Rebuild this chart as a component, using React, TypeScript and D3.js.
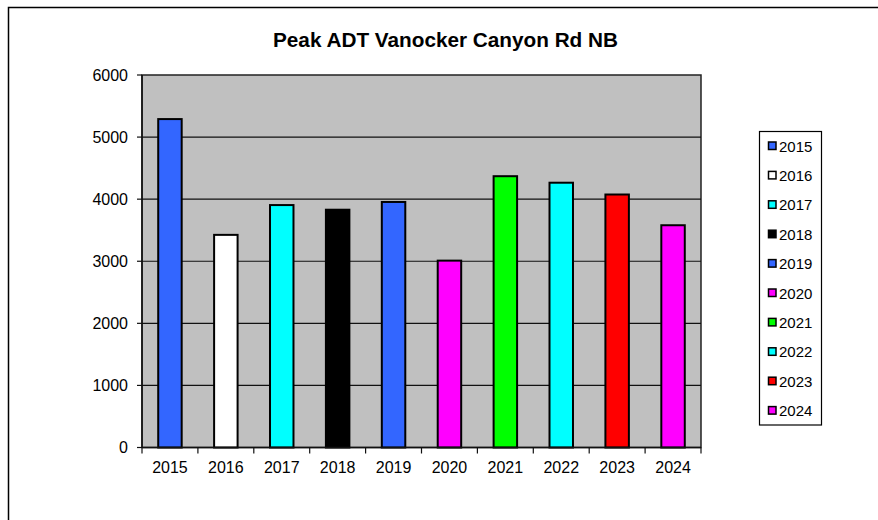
import React from "react";
import * as d3 from "d3";

const categories = ["2015", "2016", "2017", "2018", "2019", "2020", "2021", "2022", "2023", "2024"];
const values = [5290, 3425, 3905, 3830, 3955, 3010, 4370, 4265, 4075, 3580];
const colors = ["#3366ff", "#ffffff", "#00ffff", "#000000", "#3366ff", "#ff00ff", "#00ff00", "#00ffff", "#ff0000", "#ff00ff"];
const yTicks = [0, 1000, 2000, 3000, 4000, 5000, 6000];
const title = "Peak ADT Vanocker Canyon Rd NB";

const W = 878, H = 520;
const plot = { left: 142, right: 701, top: 75, bottom: 447.5 };
const font = "'Liberation Sans', Arial, sans-serif";

export default function App() {
  const x = d3.scaleBand<string>().domain(categories).range([plot.left, plot.right]).paddingInner(0.58).paddingOuter(0.29);
  const xb = d3.scaleBand<string>().domain(categories).range([plot.left, plot.right]);
  const y = d3.scaleLinear().domain([0, 6000]).range([plot.bottom, plot.top]);
  const legendTop = 131.5;
  const legendStep = 29.4;
  return (
    <svg width={W} height={H} style={{ position: "absolute", left: 0, top: 0 }} fontFamily={font}>
      <rect x={0} y={0} width={W} height={H} fill="#fff" />
      <rect x={8.5} y={7.5} width={W + 20} height={H + 20} fill="none" stroke="#000" strokeWidth={1.5} />
      <text x={445.5} y={47} textAnchor="middle" fontSize={20} fontWeight="bold" textLength={345} lengthAdjust="spacingAndGlyphs">{title}</text>
      <rect x={plot.left} y={plot.top} width={plot.right - plot.left} height={plot.bottom - plot.top} fill="#c0c0c0" stroke="#222" strokeWidth={1.5} />
      {yTicks.map((t) => (
        <g key={t}>
          {t > 0 && t < 6000 && <line x1={plot.left} x2={plot.right} y1={y(t)} y2={y(t)} stroke="#111" strokeWidth={1.2} />}
          <line x1={plot.left - 5} x2={plot.left} y1={y(t)} y2={y(t)} stroke="#111" strokeWidth={1.2} />
          <text x={plot.left - 14} y={y(t) + 5.5} textAnchor="end" fontSize={16}>{t}</text>
        </g>
      ))}
      {categories.map((c, i) => (
        <rect key={c} x={x(c)} y={y(values[i])} width={x.bandwidth()} height={plot.bottom - y(values[i])} fill={colors[i]} stroke="#000" strokeWidth={2} />
      ))}
      <line x1={plot.left} x2={plot.left} y1={plot.top} y2={plot.bottom} stroke="#111" strokeWidth={1.5} />
      <line x1={plot.left} x2={plot.right} y1={plot.bottom} y2={plot.bottom} stroke="#111" strokeWidth={1.5} />
      {categories.map((c) => (
        <line key={"t" + c} x1={xb(c)!} x2={xb(c)!} y1={plot.bottom} y2={plot.bottom + 6} stroke="#111" strokeWidth={1.2} />
      ))}
      <line x1={plot.right} x2={plot.right} y1={plot.bottom} y2={plot.bottom + 6} stroke="#111" strokeWidth={1.2} />
      {categories.map((c) => (
        <text key={"l" + c} x={xb(c)! + xb.bandwidth() / 2} y={473} textAnchor="middle" fontSize={16}>{c}</text>
      ))}
      <rect x={759.5} y={131.5} width={62} height={293.5} fill="#fff" stroke="#000" strokeWidth={1.2} />
      {categories.map((c, i) => {
        const cy = legendTop + 14.5 + i * legendStep;
        return (
          <g key={"lg" + c}>
            <rect x={768.5} y={cy - 4} width={7.5} height={7.5} fill={colors[i]} stroke="#000" strokeWidth={1.5} />
            <text x={779} y={cy + 5.5} fontSize={15}>{c}</text>
          </g>
        );
      })}
    </svg>
  );
}
